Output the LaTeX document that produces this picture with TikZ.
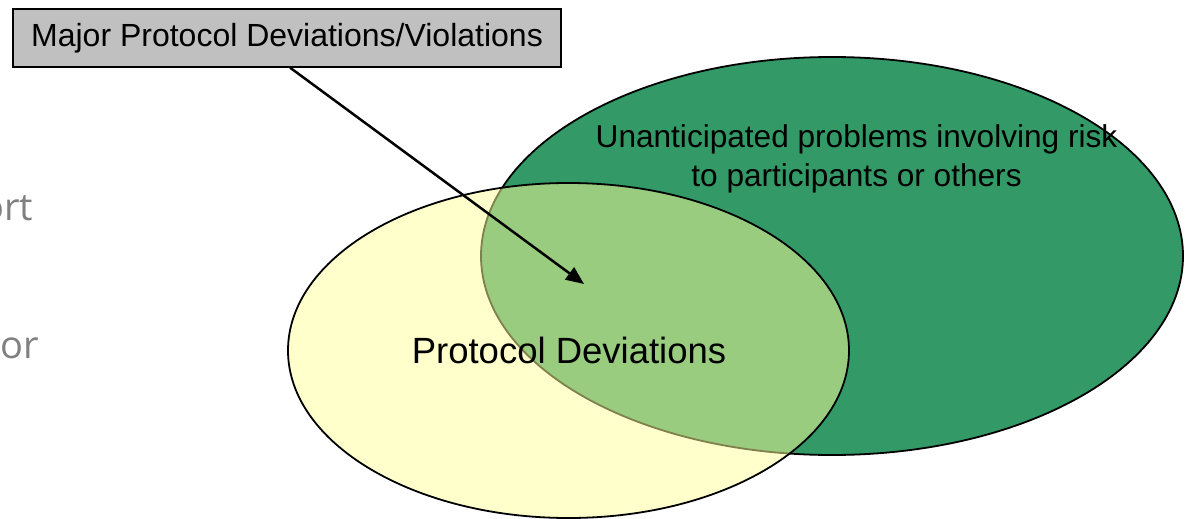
\documentclass[tikz,border=0pt]{standalone}
\usepackage{fontspec}
\setmainfont{Liberation Sans}
\newfontfamily\grayfont{Open Sans}
\usetikzlibrary{shapes.geometric,arrows.meta}
\definecolor{dkgreen}{RGB}{51,153,102}
\definecolor{ltyellow}{RGB}{255,255,153}
\definecolor{boxgray}{RGB}{192,192,192}
\definecolor{txtgray}{RGB}{128,128,128}
\tikzset{
  venn/.style={ellipse, draw=black, line width=1.8pt, inner sep=0pt},
  labelbox/.style={draw=black, line width=1.2pt, fill=boxgray, inner sep=0pt,
    minimum width=548pt, minimum height=58pt, font=\fontsize{32}{38}\selectfont},
  pointer/.style={line width=2.5pt, -{Triangle[length=18pt,width=15pt]}},
  slidetxt/.style={inner sep=0pt, text=txtgray, font=\grayfont\fontsize{38}{42}\selectfont}
}
\begin{document}
\begin{tikzpicture}[x=1pt,y=-1pt]
\useasboundingbox (0,0) rectangle (1188,519);
% green ellipse
\node[venn, fill=dkgreen, minimum width=702pt, minimum height=398pt] (risk) at (832,256) {};
% yellow ellipse (translucent)
\node[venn, fill=ltyellow, fill opacity=0.5, minimum width=561pt, minimum height=335pt] (dev) at (568.5,350.5) {};
% texts
\node[inner sep=0pt, align=center, font=\fontsize{31.6}{39.5}\selectfont] (risktxt) at (856.5,159)
  {Unanticipated problems involving risk\\to participants or others};
\node[inner sep=0pt, anchor=base, font=\fontsize{36.5}{40}\selectfont] (devtxt) at (569,363) {Protocol Deviations};
\node[slidetxt, anchor=base east] (frag1) at (33.5,220) {ort};
\node[slidetxt, anchor=base west] (frag2) at (0.5,358) {or};
% label box and pointer
\node[labelbox] (mpd) at (287,38) {Major Protocol Deviations/Violations};
\coordinate (tip) at (584,284);
\draw[pointer] ([xshift=3pt]mpd.south) -- (tip);
\end{tikzpicture}
\end{document}
